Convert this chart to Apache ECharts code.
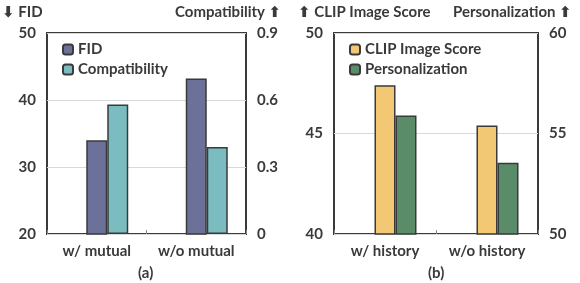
<!DOCTYPE html>
<html lang="en">
<head>
  <meta charset="UTF-8">
  <title>Ablation</title>
  <style>
    body { margin: 0; background: #fff; }
  </style>
</head>
<body>
  <div id="main" style="width: 580px; height: 283px"></div>

  <script src="https://cdn.jsdelivr.net/npm/echarts@6/dist/echarts.min.js"></script>
  <script>
    // ---- data ----
    var catsA = ['w/ mutual', 'w/o mutual'];
    var fid = [34.0, 43.2];
    var compat = [0.58, 0.39];

    var catsB = ['w/ history', 'w/o history'];
    var clipScore = [47.4, 45.4];
    var personal = [55.9, 53.55];

    var FONT = 'Lato, DejaVu Sans, sans-serif';
    var INK = '#3a3a3a';

    var myChart = echarts.init(document.getElementById('main'));

    function valAxis(grid, min, max, step, side, grid_lines) {
      return {
        type: 'value', gridIndex: grid, position: side,
        min: min, max: max, interval: step,
        axisLine: { show: false },
        axisTick: { show: false },
        axisLabel: { color: INK, fontFamily: FONT, fontWeight: 'bold', fontSize: 15, margin: 11 },
        splitLine: { show: grid_lines, lineStyle: { color: '#d9d9d9', width: 1 } }
      };
    }

    function catAxis(grid, cats) {
      return {
        type: 'category', gridIndex: grid, data: cats,
        axisLine: { show: false },
        axisTick: { show: true, inside: true, length: 4, lineStyle: { color: '#888' } },
        axisLabel: { color: INK, fontFamily: FONT, fontWeight: 'bold', fontSize: 15, margin: 10 }
      };
    }

    function bar(name, x, y, data, color) {
      return {
        name: name, type: 'bar', xAxisIndex: x, yAxisIndex: y, data: data,
        barWidth: 21, barGap: '0%',
        itemStyle: { color: color, borderColor: INK, borderWidth: 1.5 }
      };
    }

    function txt(x, y, s) {
      return {
        type: 'text', left: x, top: y,
        style: { text: s, fill: INK, fontFamily: FONT, fontWeight: 'bold', fontSize: 15 }
      };
    }

    var legendText = { color: INK, fontFamily: FONT, fontWeight: 'bold', fontSize: 15 };

    var option = {
      animation: false,
      grid: [
        { left: 47, right: 334, top: 33, bottom: 49, show: true, borderColor: INK, borderWidth: 2 },
        { left: 334, right: 42, top: 33, bottom: 49, show: true, borderColor: INK, borderWidth: 2 }
      ],
      xAxis: [catAxis(0, catsA), catAxis(1, catsB)],
      yAxis: [
        valAxis(0, 20, 50, 10, 'left', true),
        valAxis(0, 0, 0.9, 0.3, 'right', false),
        valAxis(1, 40, 50, 5, 'left', true),
        valAxis(1, 50, 60, 5, 'right', false)
      ],
      legend: [
        {
          data: ['FID', 'Compatibility'], orient: 'vertical', left: 57, top: 37,
          itemWidth: 10, itemHeight: 10, itemGap: 5, textStyle: legendText
        },
        {
          data: ['CLIP Image Score', 'Personalization'], orient: 'vertical', left: 344, top: 37,
          itemWidth: 10, itemHeight: 10, itemGap: 5, textStyle: legendText
        }
      ],
      graphic: [
        txt(2, 5, '⬇ FID'),
        txt(175, 5, 'Compatibility ⬆'),
        txt(298, 5, '⬆ CLIP Image Score'),
        txt(453, 5, 'Personalization ⬆'),
        txt(138, 266, '(a)'),
        txt(428, 266, '(b)')
      ],
      series: [
        // empty slot keeps the bars shifted like the original
        bar('pad1', 0, 0, ['-', '-'], '#fff'),
        bar('FID', 0, 0, fid, '#6b7198'),
        bar('Compatibility', 0, 1, compat, '#7bbcc0'),
        bar('pad2', 1, 2, ['-', '-'], '#fff'),
        bar('CLIP Image Score', 1, 2, clipScore, '#f2c875'),
        bar('Personalization', 1, 3, personal, '#5a8c6a')
      ]
    };

    myChart.setOption(option);
  </script>
</body>
</html>
